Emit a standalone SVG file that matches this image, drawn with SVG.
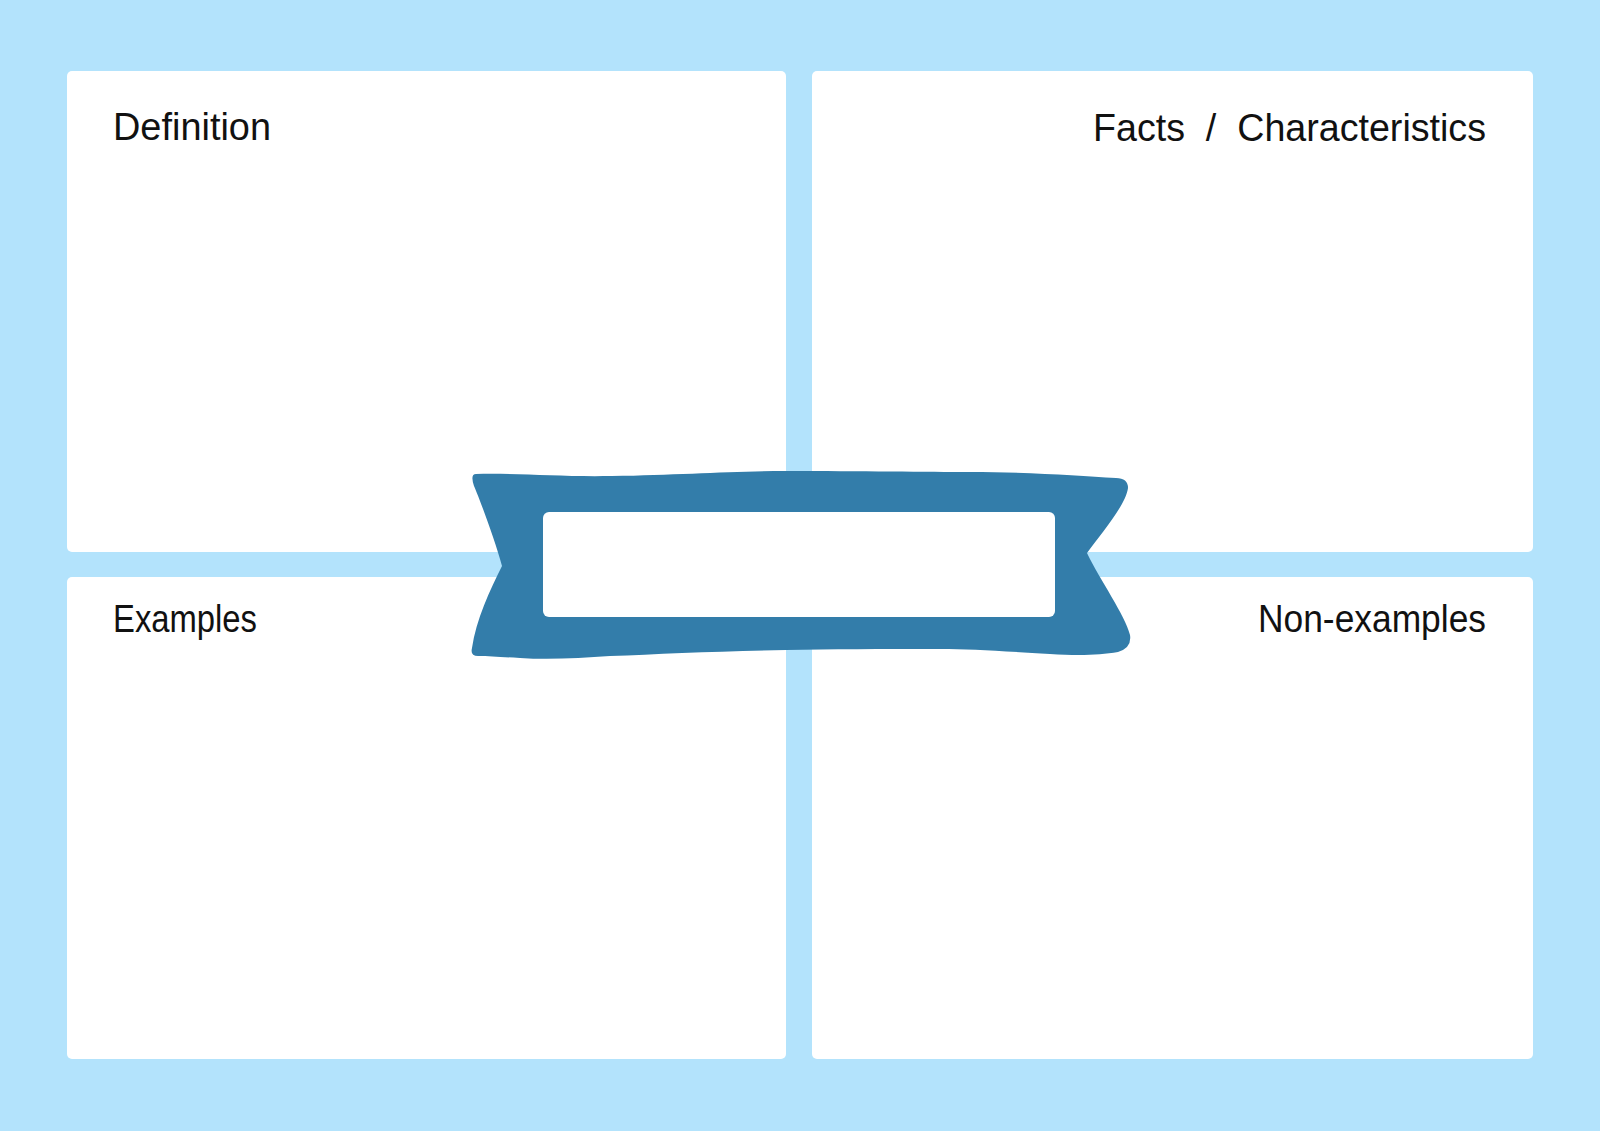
<svg xmlns="http://www.w3.org/2000/svg" width="1600" height="1131" viewBox="0 0 1600 1131">
  <style>
    .panel { fill: #FFFFFF; }
    .label { font-family: "Liberation Sans", Arial, sans-serif; font-size: 38px; fill: #111111; }
    .ribbon { fill: #337DAA; }
  </style>
  <rect id="background" x="0" y="0" width="1600" height="1131" fill="#B3E3FC"/>
  <g id="definition">
    <rect class="panel" x="67" y="71" width="719" height="481" rx="5"/>
    <text class="label" x="113" y="140" textLength="158" lengthAdjust="spacingAndGlyphs">Definition</text>
  </g>
  <g id="facts">
    <rect class="panel" x="812" y="71" width="721" height="481" rx="5"/>
    <text class="label" x="1486" y="140.5" text-anchor="end" textLength="393" lengthAdjust="spacingAndGlyphs" xml:space="preserve">Facts  /  Characteristics</text>
  </g>
  <g id="examples">
    <rect class="panel" x="67" y="577" width="719" height="482" rx="5"/>
    <text class="label" x="113" y="632" textLength="144" lengthAdjust="spacingAndGlyphs">Examples</text>
  </g>
  <g id="non-examples">
    <rect class="panel" x="812" y="577" width="721" height="482" rx="5"/>
    <text class="label" x="1486" y="632" text-anchor="end" textLength="228" lengthAdjust="spacingAndGlyphs">Non-examples</text>
  </g>
  <g id="connectors"></g>
  <g id="title-banner">
    <path class="ribbon" d="M 476,474 C 520,473 560,477 612,476 C 680,475 730,471 786,471 C 860,471 930,472 969,472 C 1030,472 1080,476 1116,478 Q 1128,478 1128,488 C 1126,505 1100,535 1087,553 C 1100,580 1125,615 1130,635 Q 1132,648 1118,652 C 1100,655 1080,656 1050,654 C 1000,651 970,649 940,649 C 880,649 830,649 786,650 C 720,651 660,654 610,656 C 580,658 550,660 520,658 C 500,657 490,656 478,656 Q 470,656 472,648 C 476,620 490,590 502,566 C 495,540 480,500 474,486 Q 470,474 476,474 Z"/>
    <rect x="543" y="512" width="512" height="105" rx="6" fill="#FFFFFF"/>
  </g>
</svg>
